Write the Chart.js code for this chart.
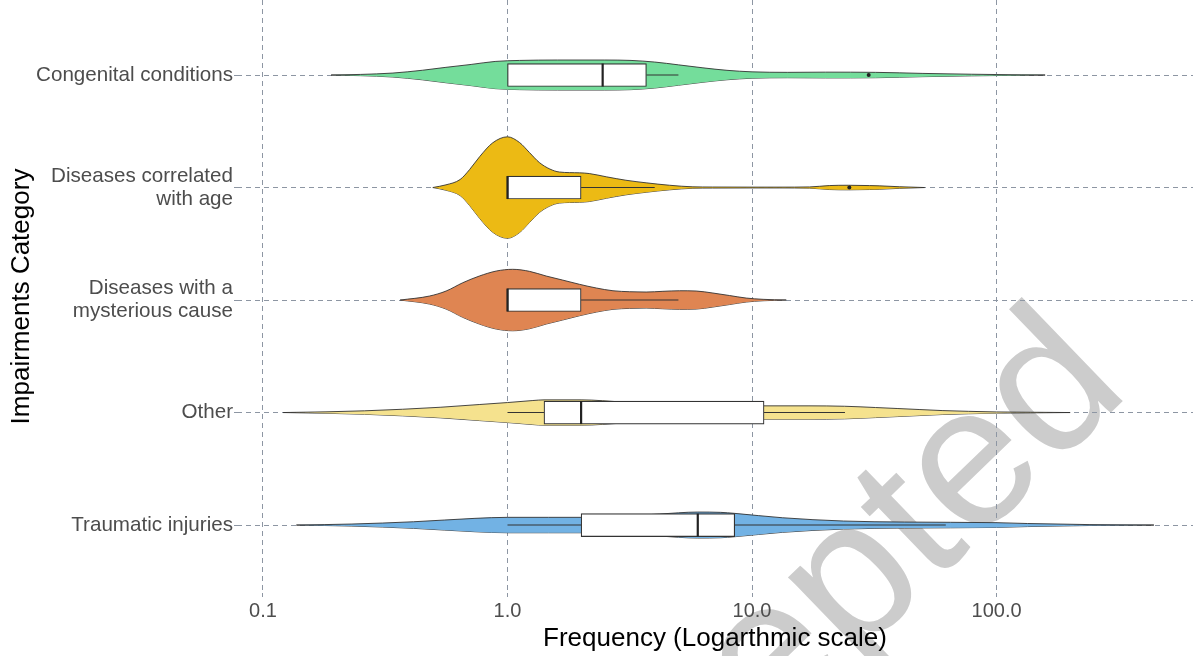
<!DOCTYPE html>
<html>
<head>
<meta charset="utf-8">
<script src="https://cdn.jsdelivr.net/npm/chart.js@4.4.0/dist/chart.umd.min.js"></script>
<style>
html,body{margin:0;padding:0;background:#ffffff;overflow:hidden;}
#wrap{width:1193px;height:656px;position:relative;}
</style>
</head>
<body>
<div id="wrap"><canvas id="c"></canvas></div>
<script>
// ---------------- DATA ----------------
const categories = [
  "Congenital conditions",
  ["Diseases correlated", "with age"],
  ["Diseases with a", "mysterious cause"],
  "Other",
  "Traumatic injuries"
];
const xTickValues = [0.1, 1, 10, 100];
const xTickLabels = ["0.1", "1.0", "10.0", "100.0"];

// violin density profiles (frequency value -> relative density)
const congenitalValues  = [0.19,0.25,0.34,0.45,0.56,0.71,0.89,1.12,1.6,2.5,3.2,4,5,6.3,7.9,10,14,20,32,50,79,100,126,158];
const congenitalDensity = [0,.012,.039,.095,.152,.209,.268,.288,.296,.296,.288,.256,.201,.142,.093,.063,.053,.057,.053,.032,.016,.010,.004,0];

const ageValues  = [0.495,0.56,0.64,0.70,0.77,0.87,1,1.12,1.23,1.35,1.49,1.63,1.97,2.16,2.54,3.05,3.69,4.6,5.73,6.9,10,12.9,17.2,20.7,24.8,30.2,33.1,40,50.8];
const ageDensity = [0,.053,.158,.355,.611,.882,1,.888,.690,.493,.365,.306,.290,.276,.211,.144,.093,.045,.014,.010,.008,.008,.012,.039,.045,.039,.034,.016,0];

const mysteriousValues  = [0.364,0.48,0.561,0.656,0.767,0.90,1.05,1.23,1.44,1.68,1.97,2.31,2.7,3.16,3.69,4.32,5.05,5.91,6.92,8.09,9.47,11.1,13.8];
const mysteriousDensity = [0,.079,.178,.341,.473,.572,.606,.566,.473,.394,.310,.237,.183,.164,.158,.172,.183,.178,.138,.089,.039,.014,0];

const otherValues  = [0.121,0.181,0.26,0.372,0.534,0.766,1,1.27,1.41,2,3,5,8,11.3,17.1,23.9,32,39.5,48.6,59.9,76.9,100,138,200];
const otherDensity = [0,.014,.034,.065,.105,.158,.197,.237,.250,.250,.207,.168,.144,.132,.132,.124,.099,.079,.059,.039,.024,.012,.006,0];

const traumaticValues  = [0.137,0.231,0.413,0.736,1,1.47,2,3,4.18,6,7.45,8.46,13.3,23.7,42,100,134,239,440];
const traumaticDensity = [0,.020,.065,.132,.152,.152,.152,.178,.217,.256,.250,.231,.144,.079,.059,.047,.030,.009,0];

// boxplot statistics per category
const boxLow    = [1, 1, 1, 1, 1];
const boxQ1     = [1, 1, 1, 1.41, 2];
const boxMedian = [2.45, 1, 1, 2, 6];
const boxQ3     = [3.7, 2, 2, 11.2, 8.5];
const boxHigh   = [5, 4, 5, 24, 62];

// outliers
const outlierValues   = [30, 25];
const outlierCategory = [0, 1];

// ---------------- STYLE ----------------
const violinValues  = [congenitalValues, ageValues, mysteriousValues, otherValues, traumaticValues];
const violinDensity = [congenitalDensity, ageDensity, mysteriousDensity, otherDensity, traumaticDensity];
const fillColors = ['#74DD9B', '#ECBA14', '#DF8552', '#F5E28E', '#72B2E4'];
const VIOLIN_SCALE = 0.4507;   // category units for density 1
const BOX_PX = 23;
const outline = '#333333';
const gridColor = '#8d96a3';
const FONT = '"Liberation Sans", Arial, Helvetica, sans-serif';

Chart.defaults.font.family = FONT;

const datasets = [];
categories.forEach((c, i) => {
  const vals = violinValues[i], dens = violinDensity[i];
  datasets.push({
    type: 'line',
    data: vals.map((v, k) => ({ x: v, y: i - dens[k] * VIOLIN_SCALE })),
    borderColor: outline, borderWidth: 0.9, pointRadius: 0,
    backgroundColor: fillColors[i], fill: '+1',
    cubicInterpolationMode: 'monotone', order: 10
  });
  datasets.push({
    type: 'line',
    data: vals.map((v, k) => ({ x: v, y: i + dens[k] * VIOLIN_SCALE })),
    borderColor: outline, borderWidth: 0.9, pointRadius: 0,
    fill: false, cubicInterpolationMode: 'monotone', order: 10
  });
  if (boxLow[i] < boxQ1[i]) {
    datasets.push({
      type: 'line', data: [{ x: boxLow[i], y: i }, { x: boxQ1[i], y: i }],
      borderColor: outline, borderWidth: 1.1, pointRadius: 0, fill: false, order: 8
    });
  }
  if (boxHigh[i] > boxQ3[i]) {
    datasets.push({
      type: 'line', data: [{ x: boxQ3[i], y: i }, { x: boxHigh[i], y: i }],
      borderColor: outline, borderWidth: 1.1, pointRadius: 0, fill: false, order: 8
    });
  }
});

datasets.push({
  type: 'bar', indexAxis: 'y',
  data: categories.map((c, i) => ({ y: i, x: [boxQ1[i], boxQ3[i]] })),
  backgroundColor: '#ffffff', borderColor: outline, borderWidth: 1.2,
  borderSkipped: false, barThickness: BOX_PX, order: 6
});
datasets.push({
  type: 'scatter',
  data: categories.map((c, i) => ({ x: boxMedian[i], y: i })),
  pointStyle: 'line', rotation: 90, pointRadius: BOX_PX / 2,
  borderColor: '#222222', borderWidth: 2.2, showLine: false, order: 4
});
datasets.push({
  type: 'scatter',
  data: outlierValues.map((v, k) => ({ x: v, y: outlierCategory[k] })),
  pointRadius: 2, backgroundColor: '#222222', borderWidth: 0, showLine: false, order: 2
});

const watermark = {
  id: 'watermark',
  beforeDraw(chart) {
    const ctx = chart.ctx;
    ctx.save();
    ctx.translate(1132, 392);
    ctx.rotate(-44 * Math.PI / 180);
    ctx.font = '200px ' + FONT;
    ctx.fillStyle = '#cccccc';
    ctx.textAlign = 'right';
    ctx.textBaseline = 'alphabetic';
    ctx.fillText('Accepted', 0, 0);
    ctx.restore();
  }
};

new Chart(document.getElementById('c'), {
  type: 'line',
  data: { datasets },
  plugins: [watermark],
  options: {
    responsive: true,
    maintainAspectRatio: false,
    animation: false,
    events: [],
    layout: { padding: 0, autoPadding: false },
    plugins: { legend: { display: false }, tooltip: { enabled: false } },
    scales: {
      x: {
        type: 'logarithmic', min: 0.0783, max: 636, bounds: 'data', offset: false,
        afterBuildTicks: s => { s.ticks = xTickValues.map(v => ({ value: v })); },
        afterFit: s => { s.height = 63; s.paddingLeft = 0; s.paddingRight = 0; },
        ticks: {
          callback: v => xTickLabels[xTickValues.indexOf(v)],
          font: { size: 20 }, color: '#4d4d4d', padding: 2, maxRotation: 0, autoSkip: false
        },
        grid: { offset: false, color: gridColor, lineWidth: 1, tickLength: 4, tickBorderDash: [5, 4], tickColor: gridColor },
        border: { display: false, dash: [5, 4] },
        title: { display: true, text: 'Frequency (Logarthmic scale)', color: '#000000', font: { size: 26 }, padding: { top: 0, bottom: 2 } }
      },
      y: {
        type: 'linear', reverse: true, min: -0.667, max: 4.604, bounds: 'data', offset: false,
        afterBuildTicks: s => { s.ticks = categories.map((c, i) => ({ value: i })); },
        afterFit: s => { s.width = 237; s.paddingTop = 0; s.paddingBottom = 0; },
        ticks: {
          callback: v => categories[v],
          font: { size: 20.6, lineHeight: 1.11 }, color: '#4d4d4d', padding: 1, autoSkip: false
        },
        grid: { offset: false, color: gridColor, lineWidth: 1, tickLength: 3, tickBorderDash: [5, 4], tickColor: gridColor },
        border: { display: false, dash: [5, 4] },
        title: { display: true, text: 'Impairments Category', color: '#000000', font: { size: 26 }, padding: { top: 6, bottom: 0 } }
      }
    }
  }
});
</script>
</body>
</html>
